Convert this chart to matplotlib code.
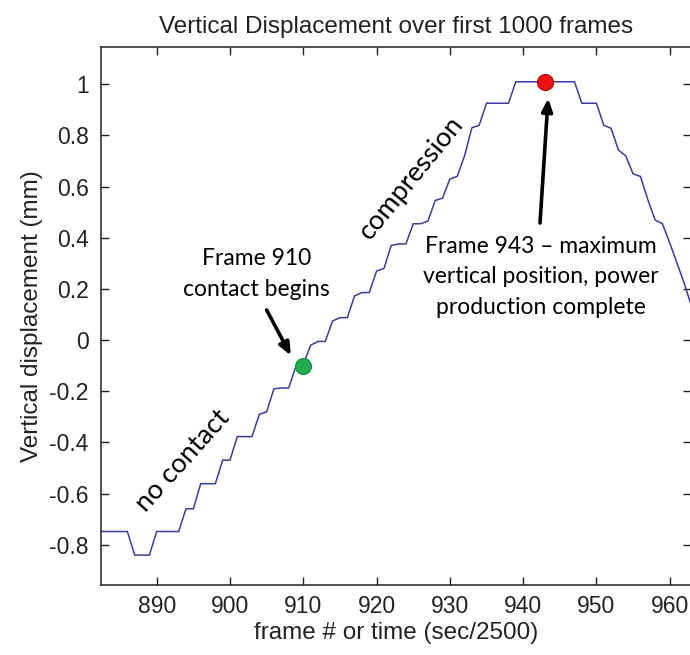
import matplotlib
matplotlib.use("Agg")
import matplotlib.pyplot as plt
from matplotlib import font_manager

# Frame numbers and vertical displacement (mm)
frames = list(range(882, 964))
displacement = [
    -0.748, -0.748, -0.748, -0.748, -0.748,           # 882-886
    -0.840, -0.840, -0.840,                           # 887-889
    -0.748, -0.748, -0.748, -0.748,                   # 890-893
    -0.659, -0.659,                                   # 894-895
    -0.561, -0.561, -0.561,                           # 896-898
    -0.469, -0.469,                                   # 899-900
    -0.377, -0.377, -0.377,                           # 901-903
    -0.290, -0.280,                                   # 904-905
    -0.190, -0.187, -0.187,                           # 906-908
    -0.102, -0.096,                                   # 909-910
    -0.020, -0.005, -0.005,                           # 911-913
    0.075, 0.088, 0.088,                              # 914-916
    0.173, 0.186, 0.186,                              # 917-919
    0.270, 0.280,                                     # 920-921
    0.370, 0.376, 0.376,                              # 922-924
    0.455, 0.455, 0.465,                              # 925-927
    0.546, 0.555,                                     # 928-929
    0.630, 0.640,                                     # 930-931
    0.720,                                            # 932
    0.830, 0.840,                                     # 933-934
    0.926, 0.926, 0.926, 0.926,                       # 935-938
    1.010, 1.010, 1.010, 1.010, 1.010,                # 939-943
    1.010, 1.010, 1.010, 1.010,                       # 944-947
    0.926, 0.926, 0.926,                              # 948-950
    0.840, 0.828,                                     # 951-952
    0.743, 0.720,                                     # 953-954
    0.650, 0.640,                                     # 955-956
    0.550, 0.470, 0.455,                              # 957-959
    0.380, 0.300, 0.220, 0.130,                       # 960-963
]

x_ticks = [890, 900, 910, 920, 930, 940, 950, 960]
y_ticks = [-0.8, -0.6, -0.4, -0.2, 0, 0.2, 0.4, 0.6, 0.8, 1]
y_tick_labels = ["-0.8", "-0.6", "-0.4", "-0.2", "0", "0.2", "0.4", "0.6", "0.8", "1"]

contact_frame, contact_value = 910, -0.10
peak_frame, peak_value = 943, 1.01

installed = {f.name for f in font_manager.fontManager.ttflist}
axis_font = ["Liberation Sans Narrow", "Liberation Sans"] if "Liberation Sans Narrow" in installed else ["Liberation Sans"]
note_font = ["Lato", "DejaVu Sans"]
ink = "#222222"

fig = plt.figure(figsize=(6.9, 6.55), dpi=100)
ax = fig.add_axes([101 / 690, 70 / 655, 590 / 690, 538.3 / 655])

ax.plot(frames, displacement, color="#3b3b9e", linewidth=1.1, solid_joinstyle="miter")

ax.set_xlim(882.4, 962.9)
ax.set_ylim(-0.957, 1.147)
ax.set_xticks(x_ticks)
ax.set_yticks(y_ticks)
ax.set_yticklabels(y_tick_labels)
ax.tick_params(direction="in", length=6, width=1, top=True, right=True,
               labelsize=16.5, colors=ink)
ax.tick_params(axis="y", pad=9)
ax.tick_params(axis="x", pad=7)
for lab in ax.get_xticklabels() + ax.get_yticklabels():
    lab.set_family(axis_font)
for s in ax.spines.values():
    s.set_linewidth(1.1)
    s.set_color(ink)

ax.set_title("Vertical Displacement over first 1000 frames", family=axis_font,
             fontsize=17.5, pad=10, color=ink)
ax.set_xlabel("frame # or time (sec/2500)", family=axis_font, fontsize=17.5,
              labelpad=3, color=ink)
ax.set_ylabel("Vertical displacement (mm)", family=axis_font, fontsize=17.5,
              labelpad=4, color=ink)

# Event markers
ax.plot([contact_frame], [contact_value], "o", markersize=11.5,
        markerfacecolor="#1fae4b", markeredgecolor="#158a38", markeredgewidth=0.8, zorder=5)
ax.plot([peak_frame], [peak_value], "o", markersize=11.5,
        markerfacecolor="#ee1111", markeredgecolor="#b00000", markeredgewidth=0.8, zorder=5)

# Arrows pointing at the events
arrow_style = dict(arrowstyle="-|>,head_length=0.75,head_width=0.32",
                   color="black", lw=2.6, shrinkA=0, shrinkB=0)
ax.annotate("", xy=(908.3, -0.060), xytext=(905.0, 0.118), arrowprops=arrow_style)
ax.annotate("", xy=(943.4, 0.945), xytext=(942.3, 0.458), arrowprops=arrow_style)

# Event captions
ax.text(903.6, 0.259, "Frame 910\ncontact begins", ha="center", va="center",
        fontsize=16.5, family=note_font, linespacing=1.6)
ax.text(942.4, 0.247, "Frame 943 \u2013 maximum\nvertical position, power\nproduction complete",
        ha="center", va="center", fontsize=16.5, family=note_font, linespacing=1.55)

# Phase labels along the curve
ax.text(893.6, -0.472, "no contact", rotation=48, ha="center", va="center",
        fontsize=19.5, family=note_font, rotation_mode="anchor")
ax.text(924.7, 0.634, "compression", rotation=51, ha="center", va="center",
        fontsize=19.5, family=note_font, rotation_mode="anchor")

fig.savefig("out.png", dpi=100, facecolor="white")
